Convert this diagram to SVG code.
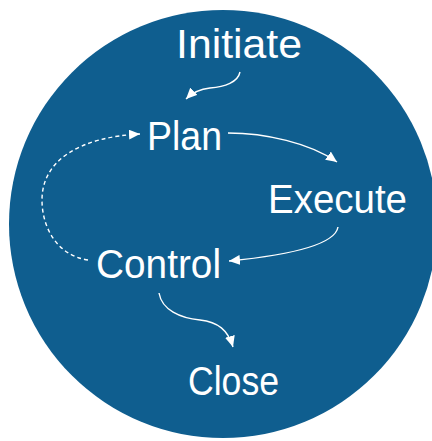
<svg xmlns="http://www.w3.org/2000/svg" width="432" height="441" viewBox="0 0 432 441">
<style>
.lbl{font-family:"Liberation Sans","DejaVu Sans",sans-serif;font-size:41px;fill:#ffffff}
.c{fill:none;stroke:#ffffff;stroke-width:1.4}
.d{stroke-dasharray:4 3}
</style>
<defs>
<marker id="ah" markerUnits="userSpaceOnUse" markerWidth="12" markerHeight="10" refX="11" refY="5" orient="auto">
<path d="M0,0 L11,5 L0,10 Z" fill="#ffffff"/>
</marker>
</defs>
<rect width="432" height="441" fill="#ffffff"/>
<circle cx="223" cy="224" r="214" fill="#0f5e8f"/>
<g id="connectors">
<path class="c" d="M240,72 C238,82 225,87 210,88 C200,89 193,92 186,99" marker-end="url(#ah)"/>
<path class="c" d="M228,133 C265,133 310,143 337,162" marker-end="url(#ah)"/>
<path class="c" d="M338,227 C335,245 290,255 229,261" marker-end="url(#ah)"/>
<path class="c d" d="M88,260 C55,255 42,225 42,200 C42,160 80,137 140,134" marker-end="url(#ah)"/>
<path class="c" d="M159,293 C162,310 180,318 200,320 C218,322 228,330 233,347" marker-end="url(#ah)"/>
</g>
<g id="initiate"><text class="lbl" x="176" y="58" textLength="126" lengthAdjust="spacingAndGlyphs">Initiate</text></g>
<g id="plan"><text class="lbl" x="147" y="150" textLength="75" lengthAdjust="spacingAndGlyphs">Plan</text></g>
<g id="execute"><text class="lbl" x="268" y="213" textLength="139" lengthAdjust="spacingAndGlyphs">Execute</text></g>
<g id="control"><text class="lbl" x="96" y="278" textLength="125" lengthAdjust="spacingAndGlyphs">Control</text></g>
<g id="close"><text class="lbl" x="188" y="395" textLength="91" lengthAdjust="spacingAndGlyphs">Close</text></g>
</svg>
